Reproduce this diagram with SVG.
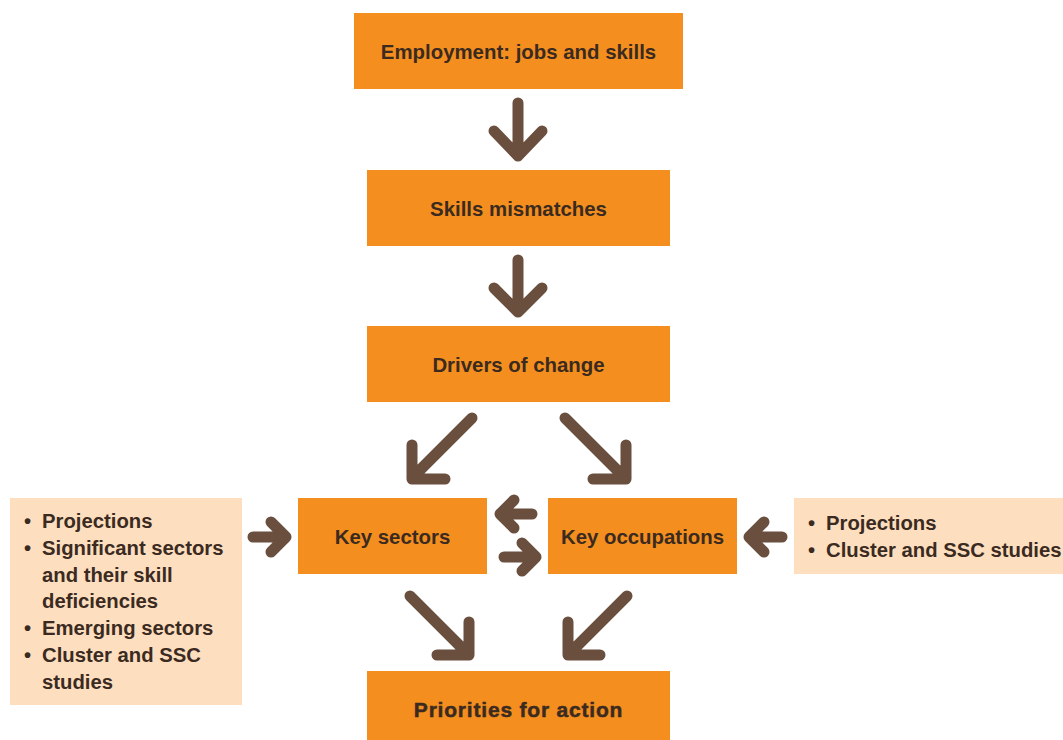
<svg xmlns="http://www.w3.org/2000/svg" width="1063" height="740" viewBox="0 0 1063 740">
<style>
.box{fill:#F48F1F}
.lbox{fill:#FDDFBF}
.t{font-family:"Liberation Sans",Arial,sans-serif;font-weight:bold;font-size:20.4px;fill:#3B2A1F;text-anchor:middle}
.p{font-family:"Liberation Sans",Arial,sans-serif;font-weight:bold;font-size:21px;letter-spacing:0.8px;fill:#3B2A1F;stroke:#3B2A1F;stroke-width:0.5;text-anchor:middle}
.l{font-family:"Liberation Sans",Arial,sans-serif;font-weight:bold;font-size:20.3px;fill:#3B2A1F}
.a{fill:none;stroke:#6A4F3F;stroke-width:11;stroke-linecap:round;stroke-linejoin:round}
</style>
<rect width="1063" height="740" fill="#fff"/>
<g id="employment"><rect class="box" x="354" y="13" width="329" height="76"/><text class="t" x="518.5" y="59">Employment: jobs and skills</text></g>
<g id="mismatches"><rect class="box" x="367" y="170" width="303" height="76"/><text class="t" x="518.5" y="216">Skills mismatches</text></g>
<g id="drivers"><rect class="box" x="367" y="326" width="303" height="76"/><text class="t" x="518.5" y="372">Drivers of change</text></g>
<g id="sectors"><rect class="box" x="298" y="498" width="189" height="76"/><text class="t" x="392.5" y="544">Key sectors</text></g>
<g id="occupations"><rect class="box" x="548" y="498" width="189" height="76"/><text class="t" x="642.5" y="544">Key occupations</text></g>
<g id="priorities"><rect class="box" x="367" y="671" width="303" height="69"/><text class="p" x="518.5" y="717">Priorities for action</text></g>
<g id="left-notes"><rect class="lbox" x="10" y="498" width="232" height="207"/>
<text class="l"><tspan x="24" y="528">•</tspan><tspan x="42" y="528">Projections</tspan><tspan x="24" y="555">•</tspan><tspan x="42" y="555">Significant sectors</tspan><tspan x="42" y="582">and their skill</tspan><tspan x="42" y="608">deficiencies</tspan><tspan x="24" y="635">•</tspan><tspan x="42" y="635">Emerging sectors</tspan><tspan x="24" y="662">•</tspan><tspan x="42" y="662">Cluster and SSC</tspan><tspan x="42" y="689">studies</tspan></text></g>
<g id="right-notes"><rect class="lbox" x="794" y="498" width="269" height="76"/>
<text class="l"><tspan x="808" y="530">•</tspan><tspan x="826" y="530">Projections</tspan><tspan x="808" y="557">•</tspan><tspan x="826" y="557">Cluster and SSC studies</tspan></text></g>
<g id="connectors">
<path class="a" d="M518 103V156M494 131L518 156L542 131"/>
<path class="a" d="M518 260V312M494 288L518 312L542 288"/>
<path class="a" d="M472 418L412 478M412 445V479H445"/>
<path class="a" d="M565 418L625 478M626 445V479H593"/>
<path class="a" d="M532 514H500M514 500L500 514L514 528"/>
<path class="a" d="M504 557H536M522 543L536 557L522 571"/>
<path class="a" d="M253 537H286M271 522L286 537L271 552"/>
<path class="a" d="M782 537H749M764 522L749 537L764 552"/>
<path class="a" d="M410 596L468 654M469 622V655H437"/>
<path class="a" d="M627 596L569 654M568 622V655H600"/>
</g>
</svg>
